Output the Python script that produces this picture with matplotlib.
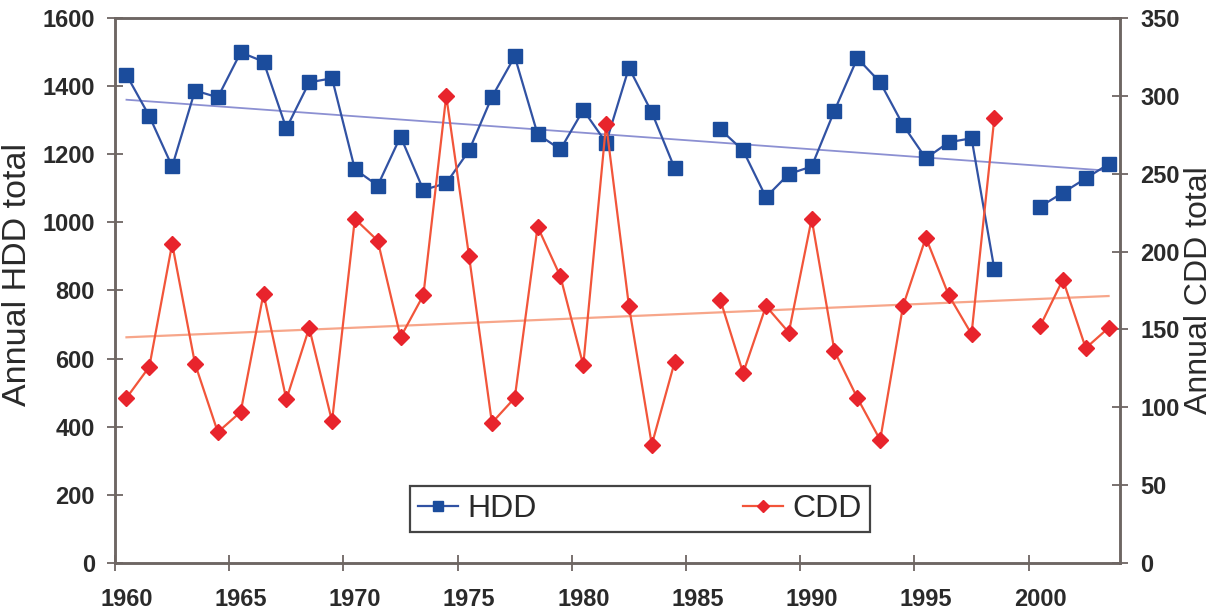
import numpy as np
import matplotlib
matplotlib.use('Agg')
import matplotlib.pyplot as plt

## DATA ##
years = list(range(1960, 2004))
nan = np.nan
hdd = [1433, 1312, 1164, 1387, 1367, 1499, 1472, 1276, 1411, 1423,
       1156, 1108, 1252, 1095, 1115, 1211, 1368, 1487, 1259, 1214,
       1330, 1234, 1454, 1323, 1159, nan, 1273, 1211, 1074, 1142,
       1164, 1328, 1482, 1411, 1286, 1188, 1235, 1247, 862, nan,
       1046, 1087, 1129, 1171]
cdd = [106, 126, 205, 128, 84, 97, 173, 105, 151, 91,
       221, 207, 145, 172, 300, 197, 90, 106, 216, 184,
       127, 282, 165, 76, 129, nan, 169, 122, 165, 148,
       221, 136, 106, 79, 165, 209, 172, 147, 286, nan,
       152, 182, 138, 151]
year_labels = [1960, 1965, 1970, 1975, 1980, 1985, 1990, 1995, 2000]
hdd_ticks = [0, 200, 400, 600, 800, 1000, 1200, 1400, 1600]
cdd_ticks = [0, 50, 100, 150, 200, 250, 300, 350]

plt.rcParams['font.family'] = ['Liberation Sans', 'DejaVu Sans']

x = np.array(years) + 0.5          # excel category axis: points sit mid-year
hdd = np.array(hdd, dtype=float)
cdd = np.array(cdd, dtype=float)

# linear trendlines like excel
ok = ~np.isnan(hdd)
hfit = np.polyfit(x[ok], hdd[ok], 1)
ok = ~np.isnan(cdd)
cfit = np.polyfit(x[ok], cdd[ok], 1)
xt = np.array([x[0], x[-1]])

spine_col = '#6e6663'
txt_col = '#2a2a2a'

fig = plt.figure(figsize=(12.15, 6.14), dpi=100)
ax = fig.add_axes([0.0947, 0.0831, 0.8271, 0.8876])
ax2 = ax.twinx()

ax.plot(xt, np.polyval(hfit, xt), color='#8c90d2', lw=1.3)
l1, = ax.plot(x, hdd, color='#3152a3', lw=1.6, marker='s', ms=10,
              mfc='#1b4c9c', mec='#1b4c9c', label='HDD')
ax2.plot(xt, np.polyval(cfit, xt), color='#f7a68a', lw=1.6)
l2, = ax2.plot(x, cdd, color='#f2553a', lw=1.6, marker='D', ms=8,
               mfc='#e8242c', mec='#e8242c', label='CDD')

ax.set_xlim(1960, 2004)
ax.set_ylim(0, 1600)
ax2.set_ylim(0, 350)

# ticks every 5 years, labels under the mid-year points
ax.set_xticks(year_labels)
ax.set_xticklabels([])
ax.set_xticks(np.array(year_labels) + 0.5, minor=True)
ax.set_xticklabels([str(y) for y in year_labels], minor=True)
ax.tick_params(axis='x', which='minor', length=0, pad=18)
ax.tick_params(axis='x', which='major', direction='inout', length=11,
               width=1.3, color=spine_col)

ax.set_yticks(hdd_ticks)
ax2.set_yticks(cdd_ticks)
ax.tick_params(axis='y', direction='inout', length=11, width=1.3,
               color=spine_col, pad=9)
ax2.tick_params(axis='y', direction='inout', length=11, width=1.3,
                color=spine_col, pad=9)

for a in (ax, ax2):
    for s in a.spines.values():
        s.set_color(spine_col)
        s.set_linewidth(1.8)
    for t in a.get_xticklabels(minor=True) + a.get_yticklabels():
        t.set_fontsize(17)
        t.set_fontweight('bold')
        t.set_color(txt_col)

ax.set_ylabel('Annual HDD total', fontsize=24.5, color=txt_col)
ax2.set_ylabel('Annual CDD total', fontsize=23, color=txt_col)
ax.yaxis.set_label_coords(-0.082, 0.53)
ax2.yaxis.set_label_coords(1.064, 0.5)

leg = ax2.legend([l1, l2], ['HDD', 'CDD'], ncol=2, loc='lower left',
                 bbox_to_anchor=(0.2935, 0.057, 0.4577, 0.086), mode='expand',
                 fontsize=23, frameon=True, fancybox=False, framealpha=1,
                 edgecolor='#444444', handlelength=1.25, handletextpad=0.3,
                 borderaxespad=0, markerscale=0.75, borderpad=0.25)
leg.get_frame().set_linewidth(1.6)
for t in leg.get_texts():
    t.set_color(txt_col)

plt.savefig('out.png', dpi=100)
